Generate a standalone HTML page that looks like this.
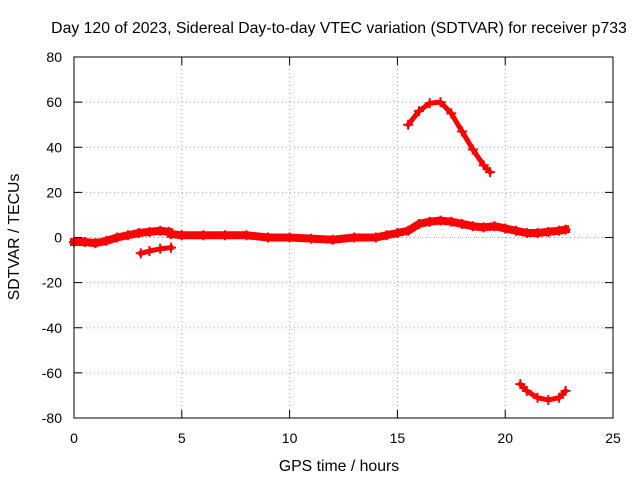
<!DOCTYPE html>
<html><head><meta charset="utf-8"><style>
body{margin:0;background:#fff}
svg text{font-family:"Liberation Sans",sans-serif;font-size:14px;fill:#000}
svg text.big{font-size:15.8px}
</style></head><body>
<svg id="chart" width="640" height="480" viewBox="0 0 640 480">
<rect width="640" height="480" fill="#fff"/>
<text class="big" x="339" y="33" text-anchor="middle">Day 120 of 2023, Sidereal Day-to-day VTEC variation (SDTVAR) for receiver p733</text>
<text class="big" x="339" y="471" text-anchor="middle">GPS time / hours</text>
<text class="big" x="19" y="237" text-anchor="middle" transform="rotate(-90 19 237)">SDTVAR / TECUs</text>
<g id="grid"></g><g id="marks"></g>
<rect x="74" y="57" width="539" height="361" fill="none" stroke="#000"/>
</svg>
<script>
const xTicks=[0,5,10,15,20,25];
const yTicks=[-80,-60,-40,-20,0,20,40,60,80];
const bandATime=[0,0.5,1,1.5,2,2.5,3,3.5,4,4.4];
const bandAVal=[-2,-2,-2.5,-1.5,0,1,2,2.5,3,2.5];
const bandBTime=[3.1,3.5,4,4.5];
const bandBVal=[-7,-6,-5,-4.5];
const bandCTime=[4.5,5,6,7,8,9,10,11,12,13,14,14.5,15,15.5,16,16.5,17,17.5,18,18.5,19,19.5,20,20.5,21,21.5,22,22.5,22.8];
const bandCVal=[1.5,1,1,1,1,0,0,-0.5,-1,0,0,1,2,3,6,7,7.5,7,6,5,4.5,5,4,3,2,2,2.5,3,3.5];
const arcUpTime=[15.5,16,16.5,17,17.5,18,18.5,19,19.3];
const arcUpVal=[50,56,59.5,60,55,47,39,32,29];
const arcDownTime=[20.7,21,21.5,22,22.5,22.8];
const arcDownVal=[-65,-68,-71,-72,-71,-68];
const X=t=>74+t*(539/25), Y=v=>237.5-v*(361/160);
const NS='http://www.w3.org/2000/svg';
const grid=document.getElementById('grid'), marks=document.getElementById('marks');
function mk(tag,attrs,parent){const e=document.createElementNS(NS,tag);for(const k in attrs)e.setAttribute(k,attrs[k]);parent.appendChild(e);return e;}
xTicks.forEach(t=>{const x=X(t);
 if(t>0&&t<25){const g=mk('line',{x1:x,x2:x,y1:57,y2:418,stroke:'#a0a0a0','stroke-dasharray':'1,3'},grid);
 
 }
 mk('line',{x1:x,x2:x,y1:418,y2:410,stroke:'#000'},grid);mk('line',{x1:x,x2:x,y1:57,y2:65,stroke:'#000'},grid);
 const l=mk('text',{x:x,y:443,'text-anchor':'middle'},grid);l.textContent=t;
 
 });
yTicks.forEach(v=>{const y=Y(v);
 if(v>-80&&v<80){const g=mk('line',{x1:74,x2:613,y1:y,y2:y,stroke:'#a0a0a0','stroke-dasharray':'1,3'},grid);
 
 }
 mk('line',{x1:74,x2:82,y1:y,y2:y,stroke:'#000'},grid);mk('line',{x1:613,x2:605,y1:y,y2:y,stroke:'#000'},grid);
 const l=mk('text',{x:62,y:y+5,'text-anchor':'end'},grid);l.textContent=v;
 
 });
function series(ts,vs,w,name){
 const p=mk('polyline',{points:ts.map((t,i)=>X(t)+','+Y(vs[i])).join(' '),fill:'none',stroke:'#f00','stroke-width':w,'stroke-linejoin':'round','stroke-linecap':'square'},marks);
 
 
 ts.forEach((t,i)=>{const x=X(t),y=Y(vs[i]);
  const m=mk('path',{d:`M${x-5},${y}h10M${x},${y-5}v10`,stroke:'#f00','stroke-width':2},marks);
  
  });
}
series(bandATime,bandAVal,8,'series-band-a');
series(bandBTime,bandBVal,5,'series-band-b');
series(bandCTime,bandCVal,8,'series-band-c');
series(arcUpTime,arcUpVal,5,'series-arc-upper');
series(arcDownTime,arcDownVal,5,'series-arc-lower');
</script>
</body></html>
